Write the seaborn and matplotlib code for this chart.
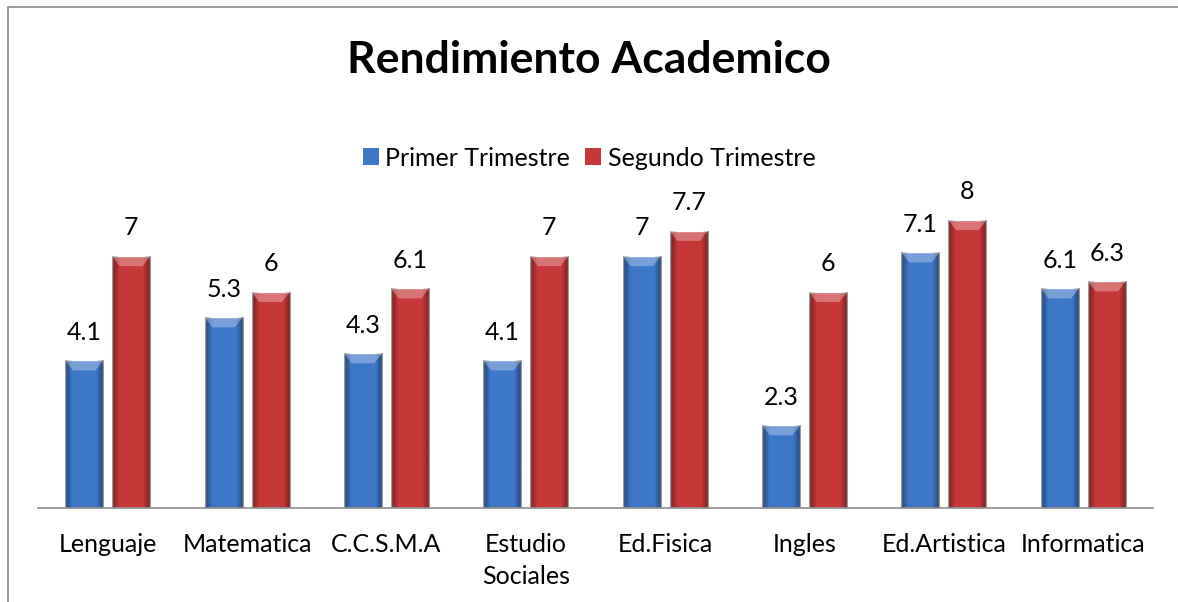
import numpy as np
import pandas as pd
import matplotlib.pyplot as plt
from matplotlib.lines import Line2D
from matplotlib.patches import Patch, Polygon
import seaborn as sns

# Chart data
materias = ['Lenguaje', 'Matematica', 'C.C.S.M.A', 'Estudio\nSociales',
            'Ed.Fisica', 'Ingles', 'Ed.Artistica', 'Informatica']
primer = [4.1, 5.3, 4.3, 4.1, 7, 2.3, 7.1, 6.1]
segundo = [7, 6, 6.1, 7, 7.7, 6, 8, 6.3]
series = ['Primer Trimestre', 'Segundo Trimestre']
colores = ['#3D78C8', '#C93838']

df = pd.DataFrame({
    'materia': materias * 2,
    'nota': primer + segundo,
    'trimestre': [series[0]] * len(materias) + [series[1]] * len(materias),
})

sns.set_style('white')
plt.rcParams['font.family'] = ['Lato', 'DejaVu Sans']
plt.rcParams['text.color'] = 'black'
plt.rcParams['xtick.color'] = 'black'

fig = plt.figure(figsize=(11.78, 6.02), dpi=100)
ax = fig.add_axes([38 / 1178, 94 / 602, 1115 / 1178, 324 / 602])

sns.barplot(data=df, x='materia', y='nota', hue='trimestre', palette=colores,
            width=0.674, gap=0.19, ax=ax, legend=False, saturation=1)
ax.set_ylim(0, 9)
ax.set_xlim(-0.5, len(materias) - 0.5)

# fake bevel: darker sides + lighter top trapezoid
shade = np.concatenate([np.linspace(0.4, 0, 7), np.zeros(18), np.linspace(0, 0.4, 7)])
for cont in ax.containers:
    for bar in cont:
        x0, y0 = bar.get_x(), bar.get_y()
        w, h = bar.get_width(), bar.get_height()
        z = bar.get_zorder()
        dark = np.zeros((1, len(shade), 4))
        dark[..., 3] = shade
        im = ax.imshow(dark, extent=[x0, x0 + w, y0, y0 + h], aspect='auto',
                       interpolation='bilinear', zorder=z + 0.1)
        im.set_clip_path(bar)
        top = y0 + h
        d = 0.28
        inset = w * 0.2
        ax.add_patch(Polygon([(x0, top), (x0 + w, top), (x0 + w - inset, top - d),
                              (x0 + inset, top - d)], closed=True,
                             facecolor='white', alpha=0.3, edgecolor='none', zorder=z + 0.2))
    ax.bar_label(cont, fmt='%g', padding=12, fontsize=18, color='black')

ax.set_xlabel('')
ax.set_ylabel('')
ax.set_yticks([])
ax.tick_params(axis='x', length=0, labelsize=18, pad=18)
for lbl in ax.get_xticklabels():
    lbl.set_linespacing(1.5)
for s in ['top', 'right', 'left']:
    ax.spines[s].set_visible(False)
ax.spines['bottom'].set_color('#8C8C8C')
ax.spines['bottom'].set_linewidth(1.2)

fig.text(0.5, 1 - 60 / 602, 'Rendimiento Academico', ha='center', va='center',
         fontsize=32, fontweight='bold', color='black')

handles = [Patch(facecolor=c, edgecolor='none') for c in colores]
fig.legend(handles, series, loc='center', bbox_to_anchor=(0.5, 1 - 158 / 602),
           ncol=2, frameon=False, fontsize=18, handlelength=0.65, handleheight=0.65,
           handletextpad=0.25, columnspacing=0.6)

# outer frame (top and left only visible)
fig.add_artist(Line2D([8 / 1178, 1], [1 - 7 / 602, 1 - 7 / 602], color='#8C8C8C', lw=1.2))
fig.add_artist(Line2D([8 / 1178, 8 / 1178], [0, 1 - 7 / 602], color='#8C8C8C', lw=1.2))

plt.savefig('out.png', dpi=100)
